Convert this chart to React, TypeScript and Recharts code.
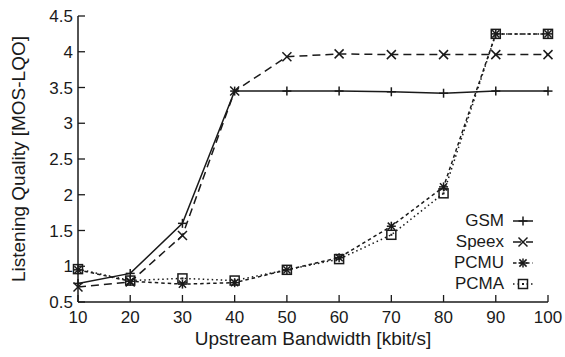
import React from "react";
import { LineChart, Line, XAxis, YAxis } from "recharts";

const bandwidth = [10, 20, 30, 40, 50, 60, 70, 80, 90, 100];
const gsm = [0.76, 0.9, 1.6, 3.45, 3.45, 3.45, 3.44, 3.42, 3.45, 3.45];
const speex = [0.71, 0.78, 1.43, 3.45, 3.93, 3.97, 3.96, 3.96, 3.96, 3.96];
const pcmu = [0.95, 0.79, 0.75, 0.77, 0.95, 1.12, 1.56, 2.11, 4.25, 4.25];
const pcma = [0.96, 0.8, 0.83, 0.8, 0.95, 1.1, 1.44, 2.02, 4.25, 4.25];
const xTicks = [10, 20, 30, 40, 50, 60, 70, 80, 90, 100];
const yTicks = [0.5, 1, 1.5, 2, 2.5, 3, 3.5, 4, 4.5];

const data = bandwidth.map((b, i) => ({ bw: b, GSM: gsm[i], Speex: speex[i], PCMU: pcmu[i], PCMA: pcma[i] }));

const INK = "#1a1a1a";
const FONT = "'Liberation Sans', Arial, sans-serif";
const FS = 17;
const LFS = 19;
const TL = 7;

function Marker({ kind, cx, cy }: { kind: string; cx: number; cy: number }) {
  const s = 4.5;
  const st = { stroke: INK, strokeWidth: 1.5, fill: "none" } as any;
  if (kind === "plus") return <g><line x1={cx - s} y1={cy} x2={cx + s} y2={cy} {...st} /><line x1={cx} y1={cy - s} x2={cx} y2={cy + s} {...st} /></g>;
  if (kind === "cross") return <g><line x1={cx - s} y1={cy - s} x2={cx + s} y2={cy + s} {...st} /><line x1={cx - s} y1={cy + s} x2={cx + s} y2={cy - s} {...st} /></g>;
  if (kind === "star") return <g><line x1={cx - s} y1={cy} x2={cx + s} y2={cy} {...st} /><line x1={cx} y1={cy - s} x2={cx} y2={cy + s} {...st} /><line x1={cx - s * 0.8} y1={cy - s * 0.8} x2={cx + s * 0.8} y2={cy + s * 0.8} {...st} /><line x1={cx - s * 0.8} y1={cy + s * 0.8} x2={cx + s * 0.8} y2={cy - s * 0.8} {...st} /></g>;
  return <g><rect x={cx - s} y={cy - s} width={2 * s} height={2 * s} {...st} /><rect x={cx - 1} y={cy - 1} width={2} height={2} fill={INK} /></g>;
}

const dotFn = (kind: string) => (p: any) => <Marker key={`${kind}-${p.index}`} kind={kind} cx={p.cx} cy={p.cy} />;

const series = [
  { key: "GSM", kind: "plus", dash: undefined as string | undefined },
  { key: "Speex", kind: "cross", dash: "8 5" },
  { key: "PCMU", kind: "star", dash: "3.5 3" },
  { key: "PCMA", kind: "square", dash: "1.5 3" },
];

const BottomTick = (p: any) => (
  <g>
    <line x1={p.x} y1={p.y} x2={p.x} y2={p.y - TL} stroke={INK} strokeWidth={1.3} />
    <text x={p.x} y={p.y + 21} textAnchor="middle" fontSize={FS} fontFamily={FONT} fill={INK}>{p.payload.value}</text>
  </g>
);
const LeftTick = (p: any) => (
  <g>
    <line x1={p.x} y1={p.y} x2={p.x + TL} y2={p.y} stroke={INK} strokeWidth={1.3} />
    <text x={p.x - 5} y={p.y + 6} textAnchor="end" fontSize={FS} fontFamily={FONT} fill={INK}>{p.payload.value}</text>
  </g>
);
const TopTick = (p: any) => <line x1={p.x} y1={p.y} x2={p.x} y2={p.y + TL} stroke={INK} strokeWidth={1.3} />;
const RightTick = (p: any) => <line x1={p.x} y1={p.y} x2={p.x - TL} y2={p.y} stroke={INK} strokeWidth={1.3} />;

const LegendBox = () => (
  <div style={{ position: "absolute", right: 31, top: 210, display: "flex", flexDirection: "column", alignItems: "flex-end" }}>
    {series.map((s) => (
      <div key={s.key} style={{ display: "flex", alignItems: "center", height: 21 }}>
        <span style={{ fontFamily: FONT, fontSize: FS, color: INK, marginRight: 8, lineHeight: "21px" }}>{s.key}</span>
        <svg width={22} height={14} style={{ display: "block" }}>
          <line x1={1} y1={7} x2={21} y2={7} stroke={INK} strokeWidth={1.5} strokeDasharray={s.dash} />
          <Marker kind={s.kind} cx={11} cy={7} />
        </svg>
      </div>
    ))}
  </div>
);

export default function App() {
  return (
    <div style={{ position: "absolute", left: 0, top: 0, width: 565, height: 357 }}>
      <LineChart width={565} height={357} data={data} margin={{ top: 16, right: 17, bottom: 15, left: 20 }}>
        <XAxis dataKey="bw" type="number" domain={[10, 100]} ticks={xTicks} xAxisId="b" height={40}
          tickSize={0} tickMargin={0} tickLine={false} axisLine={{ stroke: INK, strokeWidth: 1.5 }} tick={BottomTick}
          label={{ value: "Upstream Bandwidth [kbit/s]", position: "insideBottom", offset: -3, fontSize: LFS, fontFamily: FONT, fill: INK }} />
        <XAxis dataKey="bw" type="number" domain={[10, 100]} ticks={xTicks} xAxisId="t" orientation="top" height={0}
          tickSize={0} tickMargin={0} tickLine={false} axisLine={{ stroke: INK, strokeWidth: 1.5 }} tick={TopTick} />
        <YAxis type="number" domain={[0.5, 4.5]} ticks={yTicks} yAxisId="l" width={58}
          tickSize={0} tickMargin={0} tickLine={false} axisLine={{ stroke: INK, strokeWidth: 1.5 }} tick={LeftTick}
          label={{ value: "Listening Quality [MOS-LQO]", angle: -90, position: "insideLeft", offset: -2, style: { textAnchor: "middle" }, fontSize: LFS, fontFamily: FONT, fill: INK }} />
        <YAxis type="number" domain={[0.5, 4.5]} ticks={yTicks} yAxisId="r" orientation="right" width={0}
          tickSize={0} tickMargin={0} tickLine={false} axisLine={{ stroke: INK, strokeWidth: 1.5 }} tick={RightTick} />
        {series.map((s) => (
          <Line key={s.key} xAxisId="b" yAxisId="l" type="linear" dataKey={s.key} stroke={INK} strokeWidth={1.5}
            strokeDasharray={s.dash} dot={dotFn(s.kind)} activeDot={false} isAnimationActive={false} />
        ))}
      </LineChart>
      <LegendBox />
    </div>
  );
}
